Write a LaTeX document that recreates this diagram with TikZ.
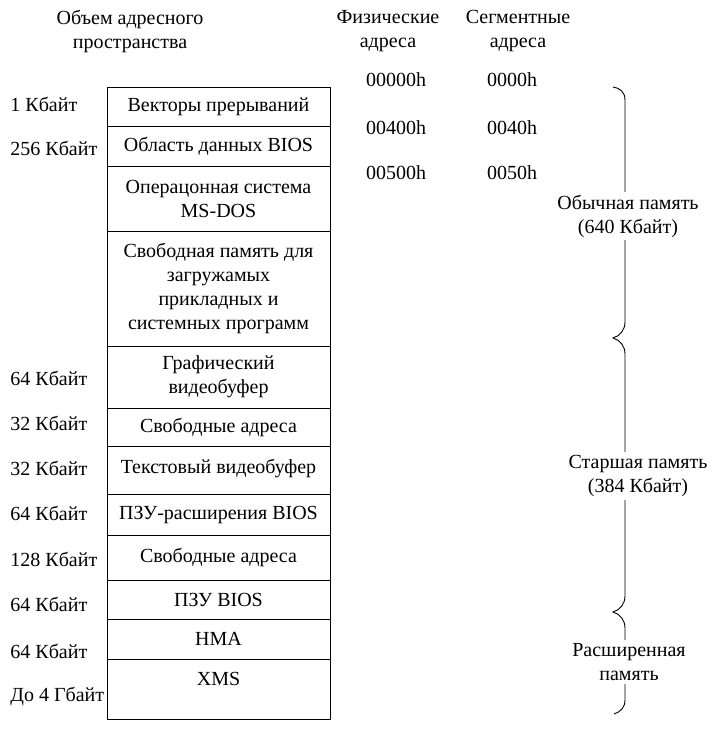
\documentclass[tikz,border=0pt]{standalone}
\usepackage{fontspec}
\setmainfont{Liberation Serif}
\usetikzlibrary{positioning}

\begin{document}
\begin{tikzpicture}[x=1pt, y=-1pt, line width=0.9pt,
  font=\fontsize{20}{24}\selectfont,
  cell/.style={draw, minimum width=223pt, inner sep=0pt, outer sep=0pt, align=center},
  size/.style={anchor=west, inner sep=0pt},
  head/.style={align=center, inner sep=0pt},
  part/.style={align=center, fill=white, inner sep=3pt}]

\useasboundingbox (0,0) rectangle (722,736);

% заголовки
\node[head] (hvol) at (130,31) {Объем адресного\\пространства};
\node[head] (hphys) at (388,31) {Физические\\адреса};
\node[head] (hseg) at (518,31) {Сегментные\\адреса};

% карта памяти
\node[cell, minimum height=39pt, anchor=north] (vec) at (218.5,87) {Векторы прерываний};
\node[cell, minimum height=40pt, below=0pt of vec] (bda) {Область данных BIOS};
\node[cell, minimum height=65pt, below=0pt of bda] (dos) {Операцонная система\\MS-DOS};
\node[cell, minimum height=115pt, below=0pt of dos] (free) {Свободная память для\\загружамых\\прикладных и\\системных программ};
\node[cell, minimum height=62pt, below=0pt of free] (gfx) {Графический\\видеобуфер};
\node[cell, minimum height=38pt, below=0pt of gfx] (fa1) {Свободные адреса};
\node[cell, minimum height=48pt, below=0pt of fa1, text depth=8pt] (txt) {Текстовый видеобуфер};
\node[cell, minimum height=41pt, below=0pt of txt] (ext) {ПЗУ-расширения BIOS};
\node[cell, minimum height=45pt, below=0pt of ext] (fa2) {Свободные адреса};
\node[cell, minimum height=39pt, below=0pt of fa2] (rom) {ПЗУ BIOS};
\node[cell, minimum height=40pt, below=0pt of rom] (hma) {HMA};
\node[cell, minimum height=60pt, below=0pt of hma, text depth=20pt] (xms) {XMS};

% размеры
\node[size] (s1) at (10,104) {1 Кбайт};
\node[size] (s2) at (10,148) {256 Кбайт};
\node[size] (s3) at (10,378) {64 Кбайт};
\node[size] (s4) at (10,423) {32 Кбайт};
\node[size] (s5) at (10,468) {32 Кбайт};
\node[size] (s6) at (10,513) {64 Кбайт};
\node[size] (s7) at (10,559) {128 Кбайт};
\node[size] (s8) at (10,604) {64 Кбайт};
\node[size] (s9) at (10,651) {64 Кбайт};
\node[size] (s10) at (10,696) {До 4 Гбайт};

% адреса
\node (p0) at (396,80) {00000h};
\node (p1) at (396,128) {00400h};
\node (p2) at (396,173) {00500h};
\node (g0) at (512,80) {0000h};
\node (g1) at (512,128) {0040h};
\node (g2) at (512,173) {0050h};

% скобка
\draw (613,87) .. controls (620,88) and (625,92) .. (625,100) -- (625,322)
  .. controls (625,330) and (620,336) .. (613,338)
  .. controls (620,340) and (625,346) .. (625,354) -- (625,596)
  .. controls (625,604) and (620,610) .. (613,612)
  .. controls (620,614) and (625,620) .. (625,628) -- (625,700)
  .. controls (625,708) and (620,712) .. (614,714);

\node[part] (usual) at (628,216) {Обычная память\\(640 Кбайт)};
\node[part] (upper) at (638,476) {Старшая память\\(384 Кбайт)};
\node[part] (xmem) at (629,662) {Расширенная\\память};

\end{tikzpicture}
\end{document}
